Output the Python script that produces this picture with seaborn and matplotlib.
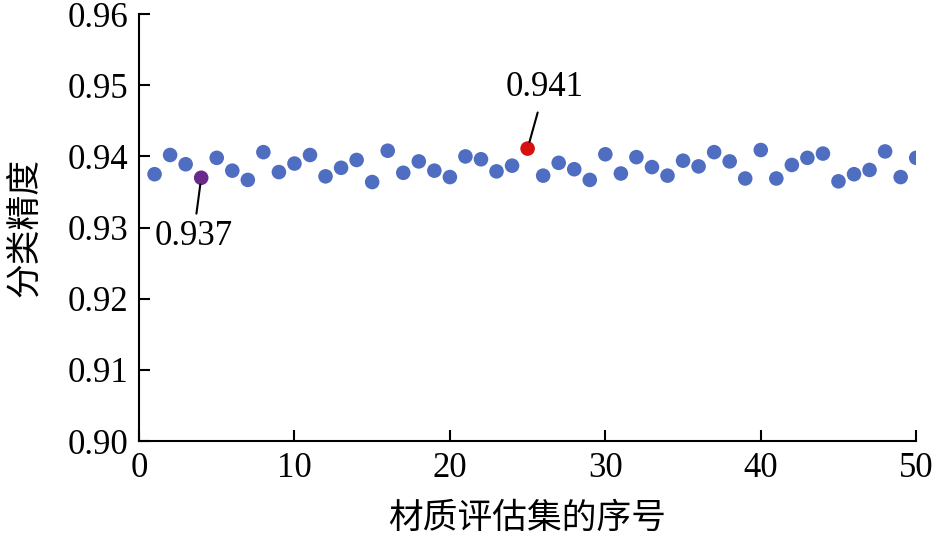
import numpy as np
import pandas as pd
import matplotlib
matplotlib.use('Agg')
import matplotlib.pyplot as plt
import seaborn as sns

# values
set_index = list(range(1, 51))
accuracy = [
    0.9375, 0.9402, 0.9389, 0.9370, 0.9398, 0.9380, 0.9367, 0.9406, 0.9378, 0.9390,
    0.9402, 0.9372, 0.9384, 0.9395, 0.9364, 0.9408, 0.9377, 0.9393, 0.9380, 0.9371,
    0.9400, 0.9396, 0.9379, 0.9387, 0.9411, 0.9373, 0.9391, 0.9382, 0.9367, 0.9403,
    0.9376, 0.9399, 0.9385, 0.9373, 0.9394, 0.9386, 0.9406, 0.9393, 0.9369, 0.9409,
    0.9369, 0.9388, 0.9398, 0.9404, 0.9365, 0.9375, 0.9381, 0.9407, 0.9371, 0.9398,
]
min_idx = 4
max_idx = 25
min_label = '0.937'
max_label = '0.941'
x_ticks = [0, 10, 20, 30, 40, 50]
y_ticks = [0.90, 0.91, 0.92, 0.93, 0.94, 0.95, 0.96]

df = pd.DataFrame({'idx': set_index, 'acc': accuracy})
df['group'] = 'normal'
df.loc[df['idx'] == min_idx, 'group'] = 'min'
df.loc[df['idx'] == max_idx, 'group'] = 'max'

sns.set_style('ticks')
plt.rcParams['font.family'] = ['Liberation Serif', 'Noto Sans CJK SC']
plt.rcParams['xtick.direction'] = 'in'
plt.rcParams['ytick.direction'] = 'in'
plt.rcParams['text.color'] = 'black'
plt.rcParams['axes.labelcolor'] = 'black'
plt.rcParams['xtick.color'] = 'black'
plt.rcParams['ytick.color'] = 'black'

fig = plt.figure(figsize=(9.33, 5.4), dpi=100)
ax = fig.add_axes([0.149, 0.183, 0.833, 0.791])

palette = {'normal': '#4F6EC2', 'min': '#6A2A8A', 'max': '#D81010'}
sns.scatterplot(data=df, x='idx', y='acc', hue='group', palette=palette,
                s=110, edgecolor='none', legend=False, ax=ax, zorder=3)

mn = df[df['idx'] == min_idx].iloc[0]
mx = df[df['idx'] == max_idx].iloc[0]
ax.annotate(min_label, xy=(mn['idx'], mn['acc']), xytext=(3.5, 0.9288),
            ha='center', va='center', fontsize=25,
            arrowprops=dict(arrowstyle='-', color='black', lw=1.5, shrinkA=2, shrinkB=5))
ax.annotate(max_label, xy=(mx['idx'], mx['acc']), xytext=(26.1, 0.9497),
            ha='center', va='center', fontsize=25,
            arrowprops=dict(arrowstyle='-', color='black', lw=1.5, shrinkA=4, shrinkB=5))

ax.set_xlim(0, 50)
ax.set_ylim(0.90, 0.96)
ax.set_xticks(x_ticks)
ax.set_yticks(y_ticks)
ax.set_yticklabels([f'{v:.2f}' for v in y_ticks])
ax.tick_params(labelsize=25, length=8, width=1.5, pad=8)
for side in ['top', 'right']:
    ax.spines[side].set_visible(False)
for side in ['left', 'bottom']:
    ax.spines[side].set_linewidth(1.5)
    ax.spines[side].set_color('black')

ax.set_xlabel('材质评估集的序号', fontsize=25, labelpad=13)
ax.set_ylabel('分类精度', fontsize=25, labelpad=18)

fig.savefig('out.png', dpi=100)
